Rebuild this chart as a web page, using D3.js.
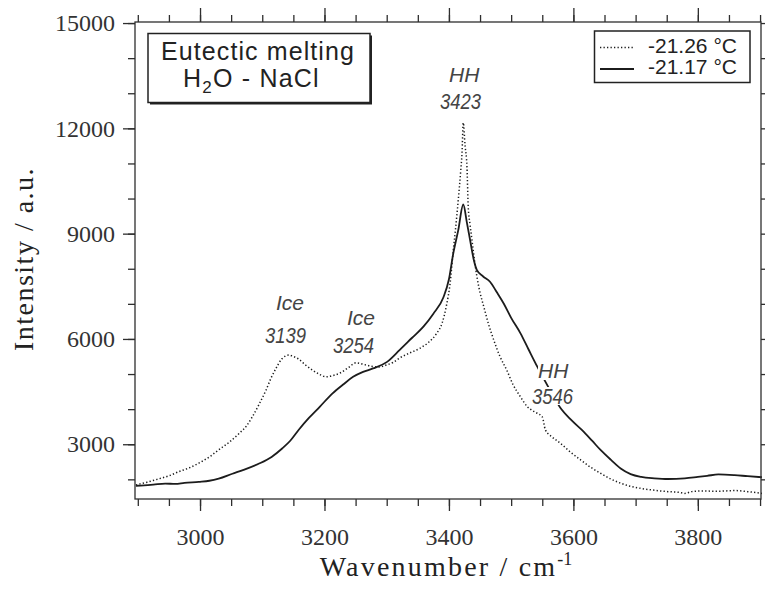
<!DOCTYPE html>
<html>
<head>
<meta charset="utf-8">
<script src="https://cdn.jsdelivr.net/npm/d3@7"></script>
<style>
  html, body { margin: 0; padding: 0; background: #fff; }
  svg { display: block; }
</style>
</head>
<body>
<script>
// Raman spectra of the H2O–NaCl system around eutectic melting
const wnCold = [2897,2915,2933,2950,2966,2983,2998,3015,3030,3047,3063,3075,3084,3095,3106,3114,3122,3132,3143,3150,3159,3170,3181,3192,3203,3214,3224,3238,3251,3262,3273,3286,3300,3310,3321,3337,3353,3367,3380,3389,3396,3402,3407,3411,3415,3419,3421,3423,3426,3429,3431,3434,3437,3441,3445,3450,3456,3464,3472,3482,3493,3503,3515,3526,3535,3542,3550,3555,3565,3579,3595,3612,3628,3644,3660,3676,3692,3709,3730,3752,3770,3779,3790,3806,3830,3859,3880,3903];
const intCold = [1840,1920,2010,2100,2220,2330,2460,2640,2840,3060,3310,3530,3780,4140,4540,4880,5160,5440,5540,5500,5420,5250,5110,4990,4920,4960,5020,5180,5320,5280,5230,5200,5260,5330,5460,5600,5730,5900,6150,6450,6950,7600,8530,9200,9960,10800,11290,12160,11500,10900,9770,9250,8820,8250,7770,7320,6920,6400,5970,5500,5110,4700,4350,4070,3950,3880,3780,3410,3220,3030,2780,2550,2340,2170,2010,1890,1800,1740,1690,1650,1630,1600,1650,1670,1660,1680,1650,1600];

const wnWarm = [2897,2910,2925,2944,2960,2975,2998,3015,3030,3052,3070,3095,3115,3132,3145,3159,3175,3192,3213,3230,3246,3262,3278,3300,3321,3340,3359,3375,3391,3400,3407,3415,3423,3429,3434,3440,3445,3455,3466,3477,3488,3500,3515,3528,3542,3560,3579,3596,3614,3630,3644,3660,3676,3692,3709,3730,3752,3779,3800,3815,3833,3859,3880,3903];
const intWarm = [1818,1830,1850,1880,1870,1900,1930,1960,2020,2160,2270,2450,2640,2880,3100,3420,3750,4060,4450,4700,4920,5060,5160,5340,5690,6020,6350,6720,7180,7700,8440,9100,9830,9300,8820,8250,7960,7780,7630,7330,7010,6600,6160,5700,5210,4620,4040,3700,3400,3100,2830,2560,2310,2150,2070,2030,2010,2030,2070,2100,2140,2120,2090,2060];

const seriesNames = ["-21.26 °C", "-21.17 °C"];

const xMajorTicks = [3000, 3200, 3400, 3600, 3800];
const yMajorTicks = [3000, 6000, 9000, 12000, 15000];

const peakLabels = ["HH", "Ice", "Ice", "HH"];
const peakPositions = [3423, 3139, 3254, 3546];

const W = 765, H = 589;
const plot = { left: 135, right: 761, top: 22, bottom: 499 };

const x = d3.scaleLinear().domain([2895.5, 3901.5]).range([plot.left, plot.right]);
const y = d3.scaleLinear().domain([1440, 15030]).range([plot.bottom, plot.top]);

const svg = d3.select("body").append("svg").attr("width", W).attr("height", H);

const axisColor = "#2e2e2e";
const serif = "'Liberation Serif', 'Times New Roman', serif";
const sans = "'Liberation Sans', Arial, Helvetica, sans-serif";

// ----- spectra -----
const line = d3.line().x(d => x(d[0])).y(d => y(d[1])).curve(d3.curveMonotoneX);
const cold = wnCold.map((w, i) => [w, intCold[i]]);
const warm = wnWarm.map((w, i) => [w, intWarm[i]]);

svg.append("path").datum(warm)
  .attr("d", line).attr("fill", "none")
  .attr("stroke", "#1c1c1c").attr("stroke-width", 1.8);

svg.append("path").datum(cold)
  .attr("d", line).attr("fill", "none")
  .attr("stroke", "#1c1c1c").attr("stroke-width", 1.5)
  .attr("stroke-dasharray", "1.3,2.2");

// ----- axes (ticks outward on all four sides) -----
const xMinor = d3.range(2900, 3901, 50);
const yMinor = d3.range(2000, 15001, 1000);

const bottomAxis = d3.axisBottom(x).tickValues(xMinor).tickSize(7).tickFormat("");
const bottomMajor = d3.axisBottom(x).tickValues(xMajorTicks)
  .tickSize(12).tickPadding(17).tickFormat(d3.format("d"));
const topAxis = d3.axisTop(x).tickValues(xMinor).tickSize(7).tickFormat("");
const topMajor = d3.axisTop(x).tickValues(xMajorTicks).tickSize(14).tickFormat("");
const leftAxis = d3.axisLeft(y).tickValues(yMinor).tickSize(7).tickFormat("");
const leftMajor = d3.axisLeft(y).tickValues(yMajorTicks)
  .tickSize(12).tickPadding(8).tickFormat(d3.format("d"));
const rightAxis = d3.axisRight(y).tickValues(yMinor).tickSize(7).tickFormat("");

function styleAxis(g) {
  g.attr("font-family", null).attr("font-size", null);
  g.select(".domain").remove();
  g.selectAll("line").attr("stroke", axisColor).attr("stroke-width", 1.3);
  g.selectAll("text")
    .attr("fill", "#333")
    .style("font-family", serif)
    .style("font-size", "24px");
}

svg.append("g").attr("transform", `translate(0,${plot.bottom})`).call(bottomAxis).call(styleAxis);
svg.append("g").attr("transform", `translate(0,${plot.bottom})`).call(bottomMajor).call(styleAxis);
svg.append("g").attr("transform", `translate(0,${plot.top})`).call(topAxis).call(styleAxis);
svg.append("g").attr("transform", `translate(0,${plot.top})`).call(topMajor).call(styleAxis);
svg.append("g").attr("transform", `translate(${plot.left},0)`).call(leftAxis).call(styleAxis);
svg.append("g").attr("transform", `translate(${plot.left},0)`).call(leftMajor).call(styleAxis);
svg.append("g").attr("transform", `translate(${plot.right},0)`).call(rightAxis).call(styleAxis);

// frame
svg.append("rect")
  .attr("x", plot.left).attr("y", plot.top)
  .attr("width", plot.right - plot.left).attr("height", plot.bottom - plot.top)
  .attr("fill", "none").attr("stroke", axisColor).attr("stroke-width", 1.3);

// ----- axis titles -----
const xTitle = svg.append("text")
  .attr("x", 446).attr("y", 576)
  .attr("text-anchor", "middle")
  .style("font-family", serif).style("font-size", "28px")
  .attr("letter-spacing", 2.2)
  .attr("fill", "#222");
xTitle.append("tspan").text("Wavenumber / cm");
xTitle.append("tspan").style("font-size", "18px").attr("dy", -11).attr("letter-spacing", 0).text("-1");

svg.append("text")
  .attr("transform", "translate(33,259) rotate(-90)")
  .attr("text-anchor", "middle")
  .style("font-family", serif).style("font-size", "28px")
  .attr("letter-spacing", 1.5)
  .attr("fill", "#222")
  .text("Intensity / a.u.");

// ----- title box -----
const tb = { x: 148, y: 33.5, w: 222, h: 69 };
svg.append("rect")
  .attr("x", tb.x + 2).attr("y", tb.y + 2).attr("width", tb.w).attr("height", tb.h)
  .attr("fill", "#222");
svg.append("rect")
  .attr("x", tb.x).attr("y", tb.y).attr("width", tb.w).attr("height", tb.h)
  .attr("fill", "#fff").attr("stroke", "#222").attr("stroke-width", 1.5);
svg.append("text")
  .attr("x", 258).attr("y", 60)
  .attr("text-anchor", "middle")
  .style("font-family", sans).style("font-size", "25px").attr("letter-spacing", 1.1)
  .attr("fill", "#222")
  .text("Eutectic melting");
const sub = svg.append("text")
  .attr("x", 183).attr("y", 87)
  .style("font-family", sans).style("font-size", "25px").attr("letter-spacing", 1.2)
  .attr("fill", "#222");
sub.append("tspan").text("H");
sub.append("tspan").style("font-size", "17px").attr("dy", 6).text("2");
sub.append("tspan").attr("dy", -6).text("O - NaCl");

// ----- legend -----
const lg = { x: 594.5, y: 31, w: 155.5, h: 51.5 };
svg.append("rect")
  .attr("x", lg.x).attr("y", lg.y).attr("width", lg.w).attr("height", lg.h)
  .attr("fill", "#fff").attr("stroke", "#222").attr("stroke-width", 1.5);
const legendRows = [
  { name: seriesNames[0], dash: "1.3,2.2", sw: 1.5, ly: 47.5, ty: 52.5 },
  { name: seriesNames[1], dash: null, sw: 1.8, ly: 69, ty: 74 }
];
legendRows.forEach(r => {
  svg.append("line")
    .attr("x1", 600).attr("x2", 634).attr("y1", r.ly).attr("y2", r.ly)
    .attr("stroke", "#1c1c1c").attr("stroke-width", r.sw)
    .attr("stroke-dasharray", r.dash);
  svg.append("text")
    .attr("x", 648).attr("y", r.ty)
    .style("font-family", sans).style("font-size", "21px")
    .attr("fill", "#222")
    .text(r.name);
});

// ----- peak annotations -----
const labelLayout = [
  { nameX: 449, nameY: 82, numX: 440, numY: 109 },
  { nameX: 276, nameY: 310, numX: 265, numY: 343 },
  { nameX: 347, nameY: 325, numX: 333, numY: 353 },
  { nameX: 538, nameY: 378, numX: 532, numY: 404, knockout: true }
];
peakLabels.forEach((name, i) => {
  const L = labelLayout[i];
  if (L.knockout) {
    svg.append("rect").attr("x", L.nameX).attr("y", L.nameY - 16).attr("width", 31).attr("height", 18).attr("fill", "#fff");
    svg.append("rect").attr("x", L.numX - 1).attr("y", L.numY - 17).attr("width", 43).attr("height", 18).attr("fill", "#fff");
  }
  svg.append("text")
    .attr("x", L.nameX).attr("y", L.nameY)
    .style("font-family", sans).style("font-style", "italic").style("font-size", "21px")
    .attr("fill", "#444")
    .text(name);
  svg.append("text")
    .attr("x", L.numX).attr("y", L.numY)
    .style("font-family", sans).style("font-style", "italic").style("font-size", "22px")
    .attr("textLength", 41).attr("lengthAdjust", "spacingAndGlyphs")
    .attr("fill", "#444")
    .text(String(peakPositions[i]));
});
</script>
</body>
</html>
